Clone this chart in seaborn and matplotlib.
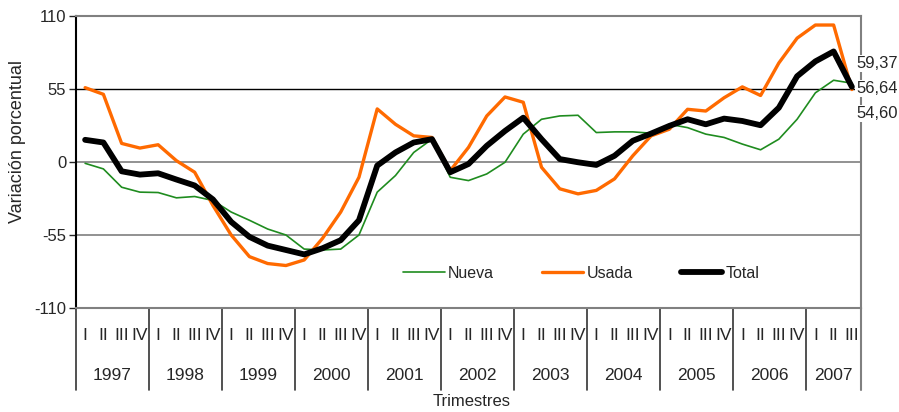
import matplotlib
matplotlib.use("Agg")
import matplotlib.pyplot as plt
import seaborn as sns
import pandas as pd

# quarterly year-on-year change, 1997 I .. 2007 III
years = ["1997", "1998", "1999", "2000", "2001", "2002",
         "2003", "2004", "2005", "2006", "2007"]
quarter_names = ["I", "II", "III", "IV"]
n_quarters = 43

nueva = [-1, -5.2, -19, -22.7, -23, -27, -26, -29, -37.7, -43.9, -50.5,
         -55, -65.6, -66.3, -65.6, -55, -22.7, -10.2, 7.2, 17.2,
         -11.5, -14, -9, -0.2, 21, 32.2, 34.7, 35.2, 22.2, 22.7,
         22.7, 21.7, 28.4, 25.9, 21, 18.5, 13.5, 9.2, 17.2, 32.2,
         52.1, 61.6, 59.37]
usada = [56, 51, 14, 10.5, 13, 1, -7.7, -32.7, -55, -71.3, -76.5,
         -78, -73.8, -57.6, -37.7, -11.5, 40, 28.4, 19.7, 18.5,
         -6.5, 11, 34.7, 49, 45, -4, -20.2, -24, -21.4, -12.7,
         4.7, 19.7, 24.7, 39.7, 38.4, 48.4, 56.6, 50.1, 74.6, 93.3,
         103.2, 103.2, 54.60]
total = [16.7, 14.7, -7, -9.5, -8.5, -13.2, -17.7, -28.2, -45.1, -56.4, -63,
         -66.3, -69.6, -65, -58.9, -43.9, -2.7, 7.2, 14.7, 17.2,
         -7.7, -1.5, 12.2, 23.4, 33.4, 17.2, 2.2, -0.2, -2.2, 4.7,
         16, 21.4, 27.2, 32.2, 28.4, 32.7, 30.9, 27.7, 40.9, 64.6,
         75.8, 83.3, 56.64]

yticks = [-110, -55, 0, 55, 110]

df = pd.DataFrame({"q": list(range(n_quarters)) * 3,
                   "valor": nueva + usada + total,
                   "serie": ["Nueva"] * n_quarters + ["Usada"] * n_quarters
                            + ["Total"] * n_quarters})

sns.set_theme(style="white")
plt.rcParams["font.family"] = ["Liberation Sans", "DejaVu Sans"]

fig = plt.figure(figsize=(8.99, 4.12), dpi=100)
ax = fig.add_axes([76 / 899, 1 - 308 / 412, 785 / 899, 292 / 412])

palette = {"Nueva": "#1f8c1f", "Usada": "#ff6a00", "Total": "black"}
widths = {"Nueva": 1.2, "Usada": 2.4, "Total": 4.2}
for name in ["Nueva", "Usada", "Total"]:
    sns.lineplot(data=df[df["serie"] == name], x="q", y="valor", ax=ax,
                 color=palette[name], linewidth=widths[name], label=name,
                 solid_capstyle="round", solid_joinstyle="round")

ax.set_xlim(-0.5, n_quarters - 0.5)
ax.set_ylim(-110, 110)
ax.set_yticks(yticks)
ax.set_yticklabels([str(t) for t in yticks], fontsize=12)
ax.tick_params(axis="y", length=5, width=1, direction="out", pad=2, left=True)
ax.set_xticks([])
ax.set_xlabel("")
ax.set_ylabel("Variación porcentual", fontsize=13)
ax.yaxis.set_label_coords(-0.064, 0.57)

# gridlines / frame
ax.axhline(0, color="#7f7f7f", linewidth=1.2, zorder=0)
ax.axhline(-55, color="#7f7f7f", linewidth=1.2, zorder=0)
ax.axhline(55, color="black", linewidth=1.0, zorder=0)
for side in ["top", "bottom", "right"]:
    ax.spines[side].set_color("#808080")
    ax.spines[side].set_linewidth(1.5)
ax.spines["left"].set_color("black")
ax.spines["left"].set_linewidth(1.5)

# two-level category axis below the plot
trans = ax.get_xaxis_transform()
for i in range(n_quarters):
    ax.text(i, -0.095, quarter_names[i % 4], transform=trans, ha="center",
            va="center", fontsize=12.5, clip_on=False)
for k, yr in enumerate(years):
    start = 4 * k - 0.5
    end = min(4 * k + 3.5, n_quarters - 0.5)
    ax.text((start + end) / 2, -0.23, yr, transform=trans, ha="center",
            va="center", fontsize=12.5, clip_on=False)
    ax.axvline(start, ymin=-0.28, ymax=0, color="#333333", linewidth=1.2,
               clip_on=False)
ax.axvline(n_quarters - 0.5, ymin=-0.28, ymax=0, color="#808080",
           linewidth=1.5, clip_on=False)
fig.text(472 / 899, 1 - 402 / 412, "Trimestres", ha="center", va="center",
         fontsize=12)

# end-of-series value labels
last = n_quarters - 1
offsets = {"Nueva": 20, "Total": -2, "Usada": -24}
for name, series in [("Nueva", nueva), ("Total", total), ("Usada", usada)]:
    ax.annotate(f"{series[-1]:.2f}".replace(".", ","),
                xy=(last, series[-1]), xytext=(3, offsets[name] * 0.72),
                textcoords="offset points", ha="left", va="center",
                fontsize=12, annotation_clip=False,
                bbox=dict(boxstyle="square,pad=0.05", fc="white", ec="none"))

ax.legend(loc="center left", bbox_to_anchor=((403 - 76) / 785, (308 - 273) / 292),
          ncol=3, frameon=False, fontsize=11.5, handlelength=2.6,
          handletextpad=0.2, columnspacing=3.0, borderaxespad=0, borderpad=0)

fig.savefig("out.png", dpi=100)
